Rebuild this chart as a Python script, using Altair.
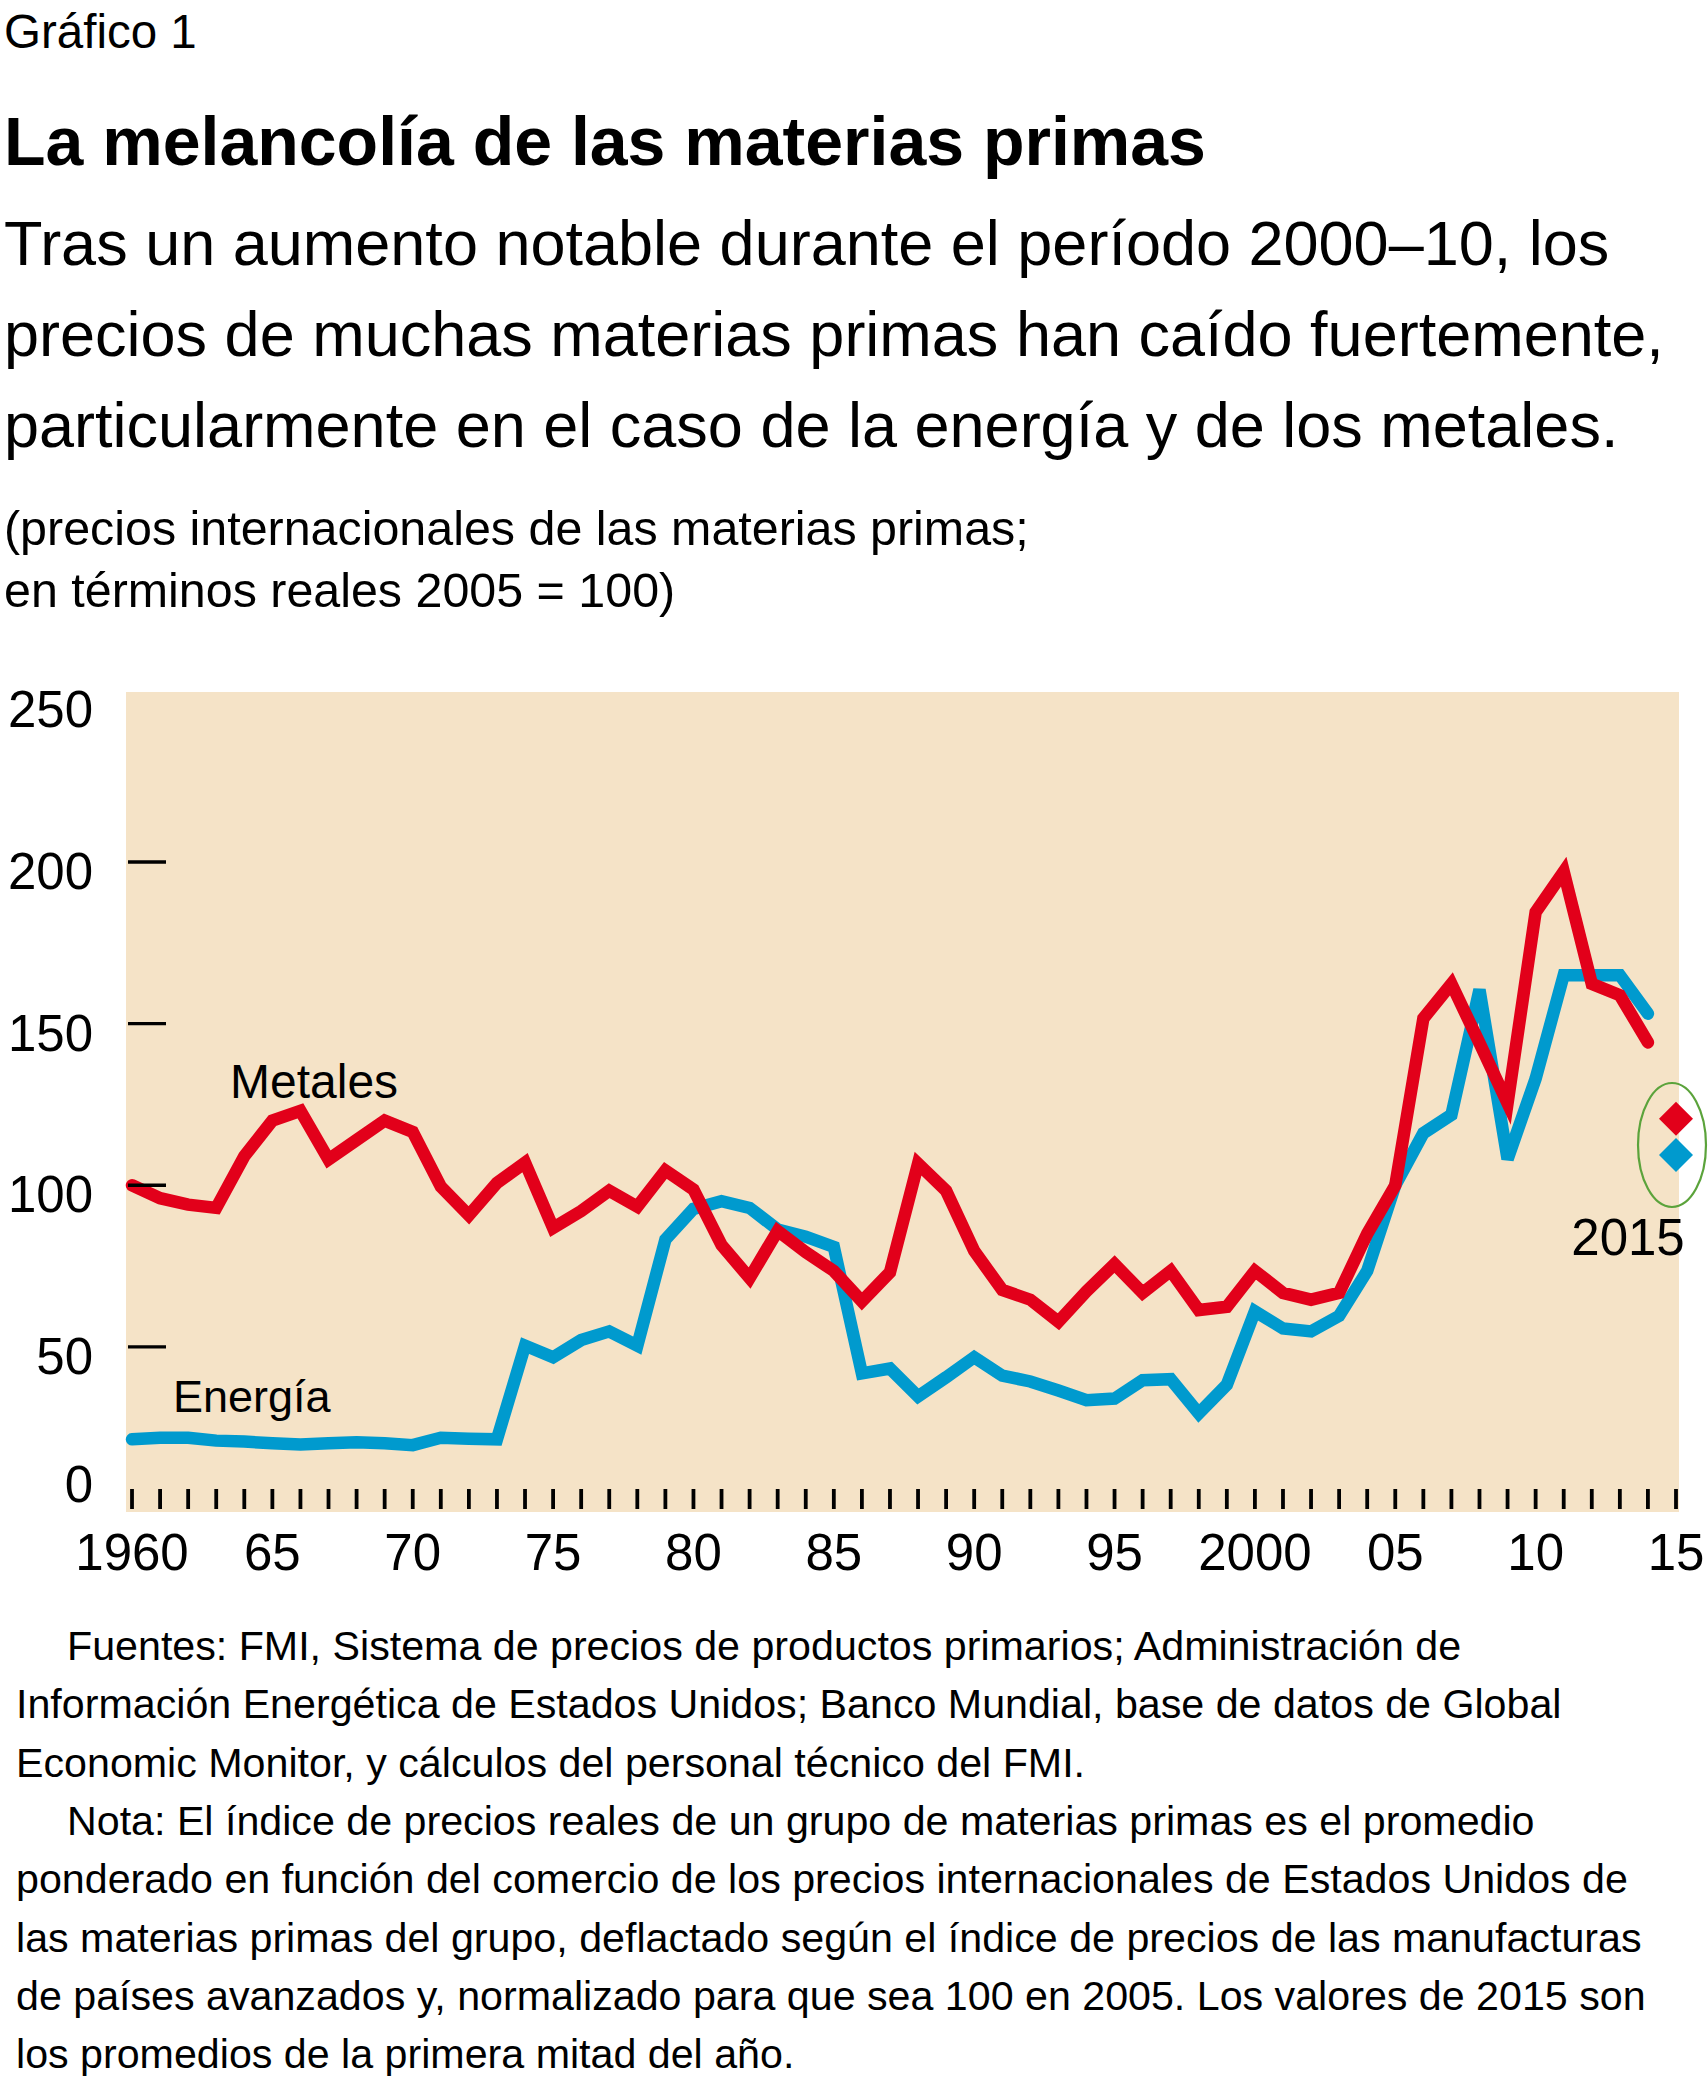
import altair as alt
import pandas as pd

# ---------------- data ----------------
years = list(range(1960, 2015))
metales = [100, 96, 94, 93, 109, 120, 123, 108, 114, 120,
           116.5, 99.6, 90.7, 100.7, 107, 86.8, 92, 98.3, 93.4, 104.6,
           98.7, 81.5, 71.3, 85.9, 79.3, 73.5, 64.1, 73.1, 106.7, 98.3,
           79.7, 67.6, 64.6, 57.8, 67.2, 75.6, 66.7, 73.5, 61.4, 62.4,
           73.5, 66.7, 64.6, 66.7, 85, 100, 151.6, 162.3, 144, 125.4,
           184.5, 197, 162.3, 158.8, 144.2]
energia = [21.4, 21.9, 21.9, 21, 20.7, 20.2, 19.8, 20.2, 20.5, 20.2,
           19.6, 21.9, 21.6, 21.4, 50.4, 46.8, 52.1, 54.8, 50.4, 83.2,
           92.7, 95.1, 93, 86.3, 84.1, 80.9, 41.8, 43.3, 34.7, 40.6,
           46.8, 41.1, 39.3, 36.5, 33.5, 34, 39.7, 40, 29.4, 38.3,
           61, 55.7, 54.8, 59.6, 73.5, 100, 116.1, 121.8, 160.5, 108.1,
           133, 165, 165, 165, 153.1]
year_2015 = [2015]
metales_2015 = [120.6]
energia_2015 = [109.4]

y_tick_values = [50, 100, 150, 200]
y_label_values = [50, 100, 150, 200, 250]
x_tick_years = list(range(1960, 2016))
x_label_years = [1960, 1965, 1970, 1975, 1980, 1985, 1990, 1995, 2000, 2005, 2010, 2015]
x_label_text = ["1960", "65", "70", "75", "80", "85", "90", "95", "2000", "05", "10", "15"]

header_kicker = "Gráfico 1"
title_text = "La melancolía de las materias primas"
subtitle_lines = [
    "Tras un aumento notable durante el período 2000–10, los",
    "precios de muchas materias primas han caído fuertemente,",
    "particularmente en el caso de la energía y de los metales.",
]
unit_lines = [
    "(precios internacionales de las materias primas;",
    "en términos reales 2005 = 100)",
]
foot_lines = [
    "Fuentes: FMI, Sistema de precios de productos primarios; Administración de",
    "Información Energética de Estados Unidos; Banco Mundial, base de datos de Global",
    "Economic Monitor, y cálculos del personal técnico del FMI.",
    "Nota: El índice de precios reales de un grupo de materias primas es el promedio",
    "ponderado en función del comercio de los precios internacionales de Estados Unidos de",
    "las materias primas del grupo, deflactado según el índice de precios de las manufacturas",
    "de países avanzados y, normalizado para que sea 100 en 2005. Los valores de 2015 son",
    "los promedios de la primera mitad del año.",
]
foot_indent = [True, False, False, True, False, False, False, False]

# ---------------- style ----------------
FONT = "Liberation Sans, Arial, sans-serif"
RED = "#E2001A"
BLUE = "#009ACE"
BG = "#F5E3C7"
GREEN = "#5BA33B"
W, H = 1553, 820

xs = alt.Scale(domain=[1959.786, 2015.107], nice=False, zero=False)
ys = alt.Scale(domain=[-1.08, 252.6], nice=False, zero=False)

X = lambda f: alt.X(f, type="quantitative", scale=xs, axis=None)
Y = lambda f: alt.Y(f, type="quantitative", scale=ys, axis=None)

one = alt.Data(values=[{}])


def txt(s, x, y, size, weight="normal", align="left"):
    return alt.Chart(one).mark_text(
        text=s, font=FONT, fontSize=size, fontWeight=weight,
        align=align, baseline="alphabetic", color="black"
    ).encode(x=alt.value(x), y=alt.value(y))


df_e = pd.DataFrame({"year": years, "value": energia})
df_m = pd.DataFrame({"year": years, "value": metales})
df_2015 = pd.DataFrame({"year": year_2015 * 2,
                        "value": energia_2015 + metales_2015,
                        "serie": ["Energía", "Metales"]})

line_e = alt.Chart(df_e).mark_line(color=BLUE, strokeWidth=12.5, strokeCap="round").encode(
    x=X("year"), y=Y("value"))
line_m = alt.Chart(df_m).mark_line(color=RED, strokeWidth=12.5, strokeCap="round").encode(
    x=X("year"), y=Y("value"))

diamonds = alt.Chart(df_2015).mark_point(shape="diamond", filled=True, size=1156, opacity=1).encode(
    x=X("year"), y=Y("value"),
    color=alt.Color("serie:N", scale=alt.Scale(domain=["Energía", "Metales"], range=[BLUE, RED]), legend=None))

ellipse = alt.Chart(one).mark_point(
    shape="M -0.548 0 A 0.548 1 0 1 1 0.548 0 A 0.548 1 0 1 1 -0.548 0 Z",
    size=15376, filled=False, stroke=GREEN, strokeWidth=2.2, opacity=1
).encode(x=alt.value(1546), y=alt.value(453))

ytick_df = pd.DataFrame({"v": y_tick_values})
yticks = alt.Chart(ytick_df).mark_rule(color="black", strokeWidth=3.4).encode(
    y=Y("v"), x=alt.value(2), x2=alt.value(40))

ylab_df = pd.DataFrame({"v": y_label_values, "t": [str(v) for v in y_label_values]})
ylabels = alt.Chart(ylab_df).mark_text(
    font=FONT, fontSize=51, align="right", baseline="alphabetic", dy=27, color="black"
).encode(y=Y("v"), x=alt.value(-33), text="t:N")
ylabel0 = txt("0", -33, 810, 51, align="right")

xtick_df = pd.DataFrame({"year": x_tick_years})
xticks = alt.Chart(xtick_df).mark_rule(color="black", strokeWidth=3.8).encode(
    x=X("year"), y=alt.value(797), y2=alt.value(817))

xlab_df = pd.DataFrame({"year": x_label_years, "t": x_label_text})
xlabels = alt.Chart(xlab_df).mark_text(
    font=FONT, fontSize=51, align="center", baseline="alphabetic", color="black"
).encode(x=X("year"), y=alt.value(878), text="t:N")

layers = [line_e, line_m, diamonds, ellipse, yticks, ylabels, ylabel0, xticks, xlabels,
          txt("Metales", 104, 406, 48),
          txt("Energía", 47, 720, 45),
          txt("2015", 1502, 563, 51, align="center"),
          txt(header_kicker, -122, -644, 47.5),
          txt(title_text, -122, -527, 68, weight="bold")]

for i, s in enumerate(subtitle_lines):
    layers.append(txt(s, -122, -427 + i * 91, 63))
for i, s in enumerate(unit_lines):
    layers.append(txt(s, -122, -147 + i * 62, 48.4))
for i, s in enumerate(foot_lines):
    layers.append(txt(s, -59 if foot_indent[i] else -110, 968 + i * 58.3, 41.2))

chart = alt.layer(*layers).properties(
    width=W, height=H,
    padding={"left": 126, "top": 692, "right": 29, "bottom": 569},
    autosize=alt.AutoSizeParams(type="none"),
    background="white",
).configure_view(fill=BG, strokeWidth=0)

chart.save("out.html", embed_options={"renderer": "svg", "actions": False})
